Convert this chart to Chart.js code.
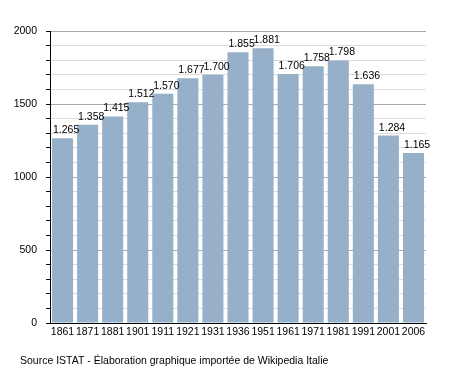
<!DOCTYPE html>
<html>
<head>
<meta charset="utf-8">
<script src="https://cdn.jsdelivr.net/npm/chart.js@4"></script>
<style>
  html, body { margin: 0; padding: 0; background: #fff; }
  #wrap { width: 455px; height: 373px; }
</style>
</head>
<body>
<div id="wrap"><canvas id="popChart" width="455" height="373"></canvas></div>
<script>
// census years and population (ISTAT)
const years = ['1861', '1871', '1881', '1901', '1911', '1921', '1931', '1936', '1951', '1961', '1971', '1981', '1991', '2001', '2006'];
const population = [1265, 1358, 1415, 1512, 1570, 1677, 1700, 1855, 1881, 1706, 1758, 1798, 1636, 1284, 1165];
const yMajorTicks = [0, 500, 1000, 1500, 2000];
const sourceNote = 'Source ISTAT - Élaboration graphique importée de Wikipedia Italie';

const FONT = 'Liberation Sans, Arial, sans-serif';

// 1265 -> "1.265"
const fmt = v => String(v).replace(/\B(?=(\d{3})+(?!\d))/g, '.');

const valueLabels = {
  id: 'valueLabels',
  afterDatasetsDraw(chart) {
    const ctx = chart.ctx;
    const meta = chart.getDatasetMeta(0);
    ctx.save();
    ctx.font = '10.5px ' + FONT;
    ctx.fillStyle = '#000';
    ctx.textAlign = 'left';
    ctx.textBaseline = 'alphabetic';
    meta.data.forEach((bar, i) => {
      const left = bar.x - bar.width / 2;
      ctx.fillText(fmt(population[i]), left + 1, bar.y - 5);
    });
    ctx.restore();
  },
  afterDraw(chart) {
    const ctx = chart.ctx;
    ctx.save();
    ctx.font = '10.5px ' + FONT;
    ctx.fillStyle = '#000';
    ctx.textAlign = 'left';
    ctx.textBaseline = 'middle';
    ctx.fillText(sourceNote, 20, 361);
    ctx.restore();
  }
};

new Chart(document.getElementById('popChart'), {
  type: 'bar',
  data: {
    labels: years,
    datasets: [{
      data: population,
      backgroundColor: '#97b0c9',
      borderWidth: 0,
      barPercentage: 0.84,
      categoryPercentage: 1
    }]
  },
  options: {
    responsive: false,
    animation: false,
    layout: { padding: { left: 0, right: 29, top: 31, bottom: 0 } },
    plugins: {
      legend: { display: false },
      tooltip: { enabled: false }
    },
    scales: {
      x: {
        grid: { display: false, drawTicks: false },
        border: { display: true, color: '#000', width: 1 },
        ticks: {
          color: '#000',
          font: { family: FONT, size: 10.5 },
          padding: 3,
          maxRotation: 0,
          autoSkip: false
        },
        afterFit: s => { s.height = 50; }
      },
      y: {
        min: 0,
        max: 2000,
        border: { display: true, color: '#000', width: 1 },
        grid: {
          color: c => (yMajorTicks.includes(c.tick.value) ? '#a9a9a9' : '#dcdcdc'),
          tickColor: '#000',
          tickLength: 4,
          lineWidth: 1
        },
        ticks: {
          stepSize: 100,
          autoSkip: false,
          color: '#000',
          padding: 9,
          font: { family: FONT, size: 10.5 },
          callback: v => (yMajorTicks.includes(v) ? String(v) : '')
        },
        afterFit: s => { s.width = 50; }
      }
    }
  },
  plugins: [valueLabels]
});
</script>
</body>
</html>
